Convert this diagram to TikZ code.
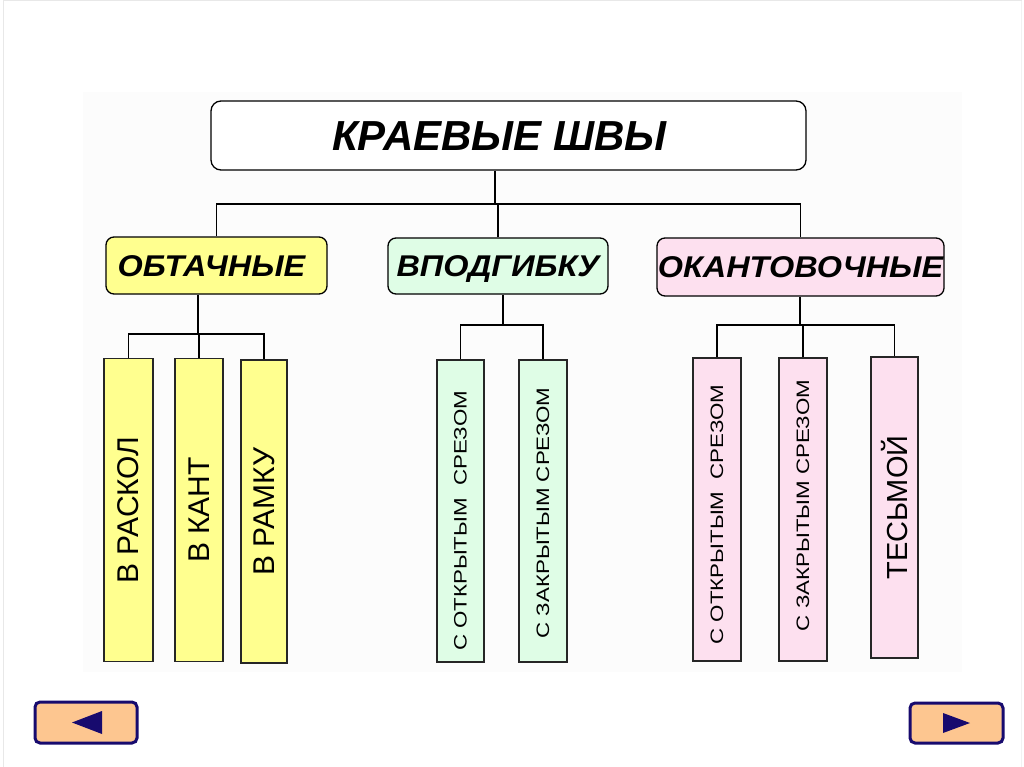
\documentclass[tikz,border=0pt]{standalone}
\usepackage{fontspec}
\setmainfont{Liberation Sans}
\usetikzlibrary{calc}
\definecolor{yel}{HTML}{FFFF8F}
\definecolor{grn}{HTML}{DFFDE6}
\definecolor{pnk}{HTML}{FDE0EF}
\definecolor{peach}{HTML}{FDC690}
\definecolor{navy}{HTML}{170A6E}
\tikzset{
  titlebox/.style={draw=black, line width=1.3pt, rounded corners=10pt, fill=white, inner sep=0pt},
  catbox/.style={draw=black, line width=1.3pt, rounded corners=8pt, inner sep=0pt},
  subbox/.style={draw=black!85, line width=1.8pt, inner sep=0pt},
  conn/.style={draw=black, line width=1.3pt},
  button/.style={draw=navy, line width=3pt, fill=peach, rounded corners=5pt, inner sep=0pt},
  tri/.style={fill=navy},
}
\newcommand{\catfont}{\fontsize{30}{30}\selectfont\bfseries\itshape}
\newcommand{\caps}[2]{\raisebox{0pt}[#1][0pt]{#2}}
\newcommand{\cattext}[1]{\caps{21.5pt}{\scalebox{1.08}[1]{\catfont #1}}}
\newcommand{\bigsub}[1]{\rotatebox{90}{\fontsize{30}{30}\selectfont #1}}
% #1: downward shift of the text in pt
\newcommand{\smallsub}[2]{\rotatebox{90}{\makebox[0pt][c]{\hspace*{-#1pt}\hspace*{-#1pt}\scalebox{1.24}[1]{\fontsize{18}{18}\selectfont #2}}}}
\begin{document}
\begin{tikzpicture}[x=1pt,y=-1pt]
\useasboundingbox (0,0) rectangle (1024,767);
\fill[white] (0,0) rectangle (1024,767);
\draw[gray!18, line width=1pt] (3,1) -- (1022,1);
\draw[gray!18, line width=1pt] (3,1) -- (3,767);
\draw[gray!10, line width=1pt] (1021,1) -- (1021,767);
\fill[black!1] (83,92) rectangle (962,672);

% title
\node[titlebox, minimum width=595pt, minimum height=69pt] (title) at (508.5,135.5)
  {\caps{30pt}{\fontsize{42}{42}\selectfont\bfseries\itshape\hspace*{-18pt}КРАЕВЫЕ ШВЫ}};

% categories
\node[catbox, fill=yel, minimum width=221pt, minimum height=57pt] (obt) at (216.5,265.5)
  {\hspace*{-10pt}\cattext{ОБТАЧНЫЕ}};
\node[catbox, fill=grn, minimum width=220pt, minimum height=56pt] (vpd) at (498,266)
  {\cattext{ВПОДГИБКУ}};
\node[catbox, fill=pnk, minimum width=287pt, minimum height=58pt] (okn) at (800.5,267)
  {\cattext{ОКАНТОВОЧНЫЕ}};

% sub boxes
\node[subbox, fill=yel, minimum width=49pt, minimum height=303pt] (r1) at (128.5,510) {\bigsub{В РАСКОЛ}};
\node[subbox, fill=yel, minimum width=48pt, minimum height=303pt] (r2) at (199,510) {\bigsub{В КАНТ}};
\node[subbox, fill=yel, minimum width=46pt, minimum height=303pt] (r3) at (264,511.5) {\bigsub{В РАМКУ}};

\node[subbox, fill=grn, minimum width=47pt, minimum height=302pt] (v1) at (460.5,511) {\smallsub{10}{С ОТКРЫТЫМ\ \ СРЕЗОМ}};
\node[subbox, fill=grn, minimum width=48pt, minimum height=302pt] (v2) at (543,511) {\smallsub{2}{С ЗАКРЫТЫМ СРЕЗОМ}};

\node[subbox, fill=pnk, minimum width=48pt, minimum height=303pt] (k1) at (717,509.5) {\smallsub{5}{С ОТКРЫТЫМ\ \ СРЕЗОМ}};
\node[subbox, fill=pnk, minimum width=48pt, minimum height=303pt] (k2) at (803,509.5) {\smallsub{-4}{С ЗАКРЫТЫМ СРЕЗОМ}};
\node[subbox, fill=pnk, minimum width=47pt, minimum height=301pt] (k3) at (894.5,507.5) {\bigsub{\fontsize{29}{29}\selectfont ТЕСЬМОЙ}};

% connectors level 1
\coordinate (bus) at (495,204);
\draw[conn] (title.south -| bus) -- (bus);
\draw[conn] (obt.north) |- (bus) -| (okn.north);
\draw[conn] (vpd.north) -- (vpd.north |- bus);

% connectors level 2
\coordinate (obus) at (198,334);
\draw[conn] (obt.south -| obus) -- (obus);
\draw[conn] (r1.north) |- (obus) -| (r3.north);
\draw[conn] (r2.north) -- (r2.north |- obus);

\coordinate (vbus) at (503,325);
\draw[conn] (vpd.south -| vbus) -- (vbus);
\draw[conn] (v1.north) |- (vbus) -| (v2.north);

\coordinate (kbus) at (800,325);
\draw[conn] (okn.south -| kbus) -- (kbus);
\draw[conn] (k1.north) |- (kbus) -| (k3.north);
\draw[conn] (k2.north) -- (k2.north |- kbus);

% navigation buttons
\node[button, minimum width=102pt, minimum height=41pt] (prev) at (86,722.5) {};
\fill[tri] (72,722.5) -- (102,711) -- (102,734) -- cycle;
\node[button, minimum width=93pt, minimum height=40pt] (next) at (956.5,723) {};
\fill[tri] (943,713) -- (943,733) -- (970,723) -- cycle;
\end{tikzpicture}
\end{document}
